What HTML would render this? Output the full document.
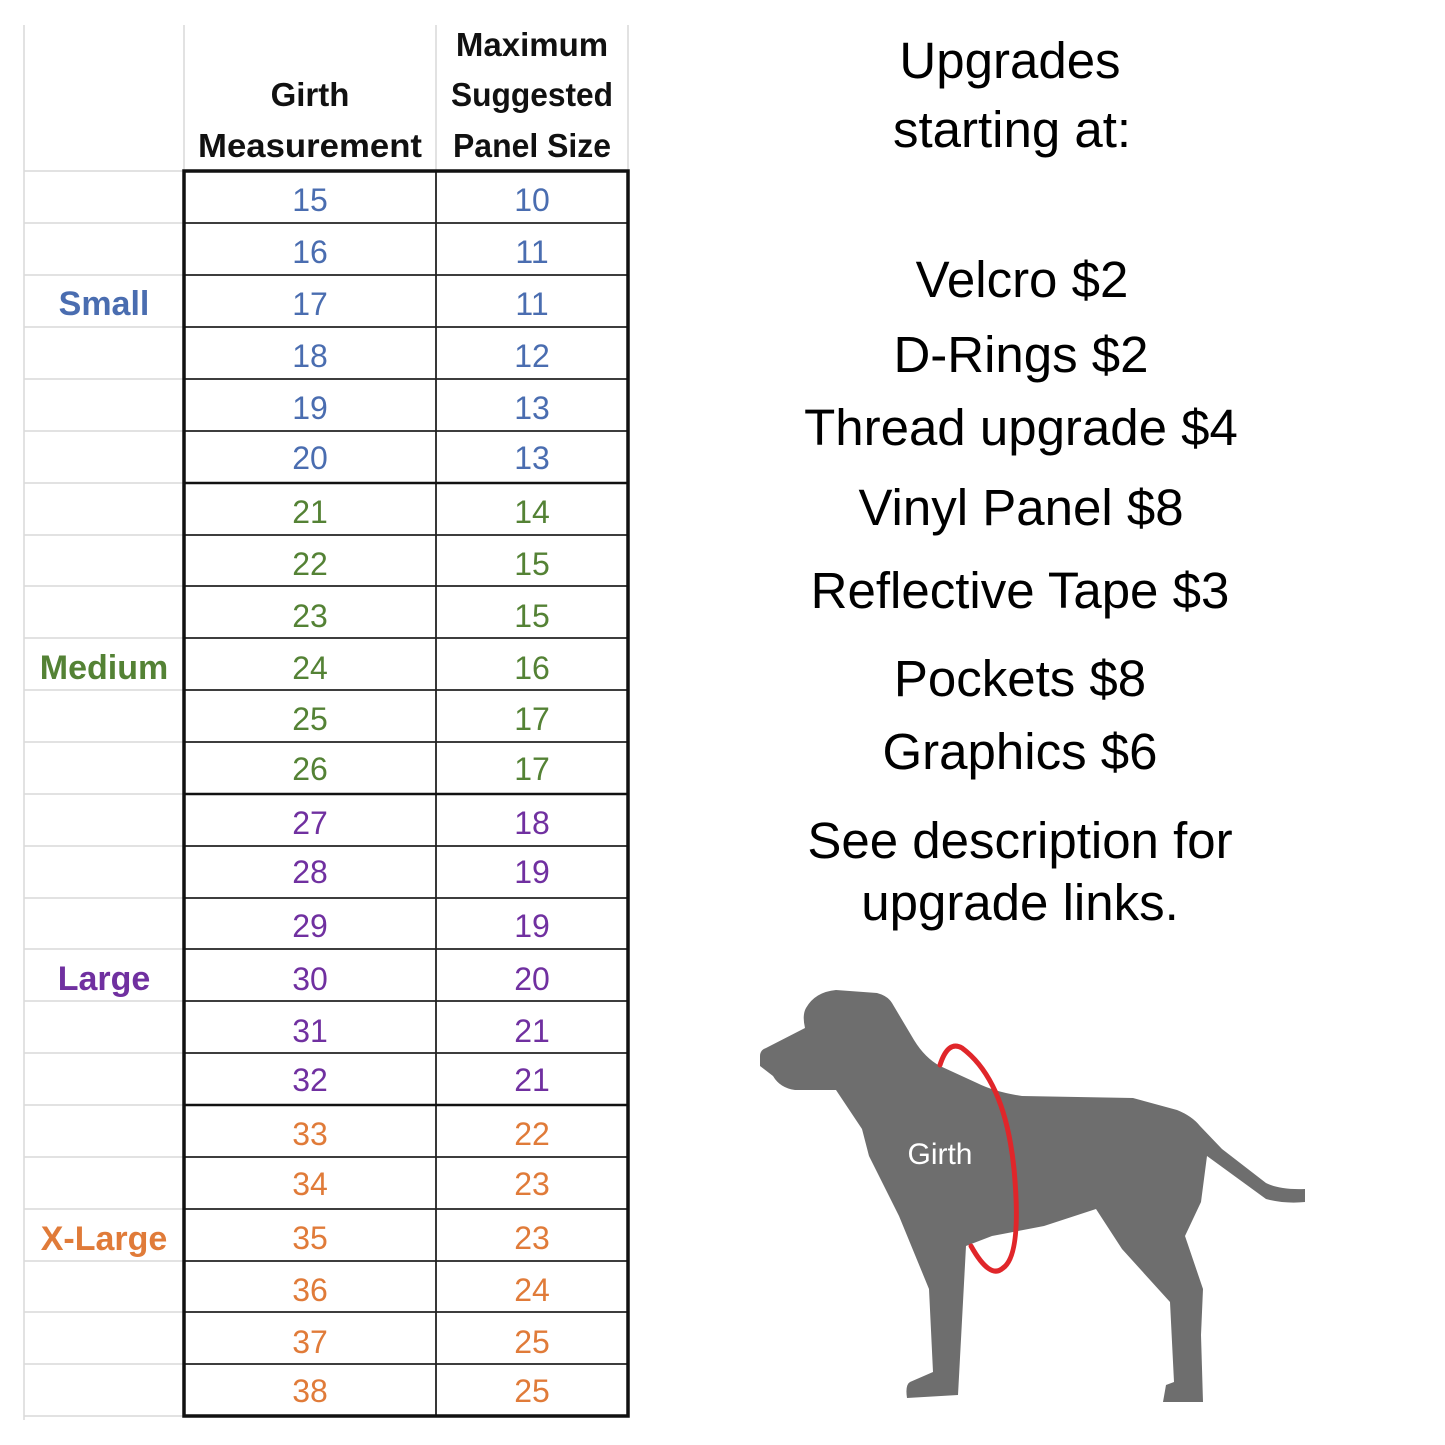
<!DOCTYPE html>
<html><head><meta charset="utf-8"><style>
html,body{margin:0;padding:0;background:#fff;}
svg{display:block;}
</style></head><body>
<svg width="1445" height="1445" viewBox="0 0 1445 1445" xmlns="http://www.w3.org/2000/svg">
<rect width="1445" height="1445" fill="#fff"/>
<g stroke="#d9d9d9" stroke-width="1.5">
<line x1="24" y1="25" x2="24" y2="1420"/>
<line x1="184" y1="25" x2="184" y2="171"/>
<line x1="436" y1="25" x2="436" y2="171"/>
<line x1="628" y1="25" x2="628" y2="171"/>
<line x1="24" y1="171" x2="184" y2="171"/>
<line x1="24" y1="223" x2="184" y2="223"/><line x1="24" y1="275" x2="184" y2="275"/><line x1="24" y1="327" x2="184" y2="327"/><line x1="24" y1="379" x2="184" y2="379"/><line x1="24" y1="431" x2="184" y2="431"/><line x1="24" y1="483" x2="184" y2="483"/><line x1="24" y1="535" x2="184" y2="535"/><line x1="24" y1="586" x2="184" y2="586"/><line x1="24" y1="638" x2="184" y2="638"/><line x1="24" y1="690" x2="184" y2="690"/><line x1="24" y1="742" x2="184" y2="742"/><line x1="24" y1="794" x2="184" y2="794"/><line x1="24" y1="846" x2="184" y2="846"/><line x1="24" y1="898" x2="184" y2="898"/><line x1="24" y1="949" x2="184" y2="949"/><line x1="24" y1="1001" x2="184" y2="1001"/><line x1="24" y1="1053" x2="184" y2="1053"/><line x1="24" y1="1105" x2="184" y2="1105"/><line x1="24" y1="1157" x2="184" y2="1157"/><line x1="24" y1="1209" x2="184" y2="1209"/><line x1="24" y1="1261" x2="184" y2="1261"/><line x1="24" y1="1312" x2="184" y2="1312"/><line x1="24" y1="1364" x2="184" y2="1364"/><line x1="24" y1="1416" x2="184" y2="1416"/>
</g>
<g stroke="#222" stroke-width="1.8">
<line x1="184" y1="223" x2="628" y2="223"/><line x1="184" y1="275" x2="628" y2="275"/><line x1="184" y1="327" x2="628" y2="327"/><line x1="184" y1="379" x2="628" y2="379"/><line x1="184" y1="431" x2="628" y2="431"/>
<line x1="184" y1="535" x2="628" y2="535"/><line x1="184" y1="586" x2="628" y2="586"/><line x1="184" y1="638" x2="628" y2="638"/><line x1="184" y1="690" x2="628" y2="690"/><line x1="184" y1="742" x2="628" y2="742"/>
<line x1="184" y1="846" x2="628" y2="846"/><line x1="184" y1="898" x2="628" y2="898"/><line x1="184" y1="949" x2="628" y2="949"/><line x1="184" y1="1001" x2="628" y2="1001"/><line x1="184" y1="1053" x2="628" y2="1053"/>
<line x1="184" y1="1157" x2="628" y2="1157"/><line x1="184" y1="1209" x2="628" y2="1209"/><line x1="184" y1="1261" x2="628" y2="1261"/><line x1="184" y1="1312" x2="628" y2="1312"/><line x1="184" y1="1364" x2="628" y2="1364"/>
<line x1="436" y1="171" x2="436" y2="1416"/>
</g>
<g stroke="#111" stroke-width="2.5">
<line x1="184" y1="483" x2="628" y2="483"/><line x1="184" y1="794" x2="628" y2="794"/><line x1="184" y1="1105" x2="628" y2="1105"/>
</g>
<rect x="184" y="171" width="444" height="1245" fill="none" stroke="#111" stroke-width="3.5"/>
<g font-family="Liberation Sans, sans-serif" font-weight="bold" font-size="33" fill="#111" text-anchor="middle">
<text x="310" y="106">Girth</text>
<text x="310" y="157" textLength="224" lengthAdjust="spacingAndGlyphs">Measurement</text>
<text x="532" y="56">Maximum</text>
<text x="532" y="106" textLength="162" lengthAdjust="spacingAndGlyphs">Suggested</text>
<text x="532" y="157" textLength="158" lengthAdjust="spacingAndGlyphs">Panel Size</text>
</g>
<g font-family="Liberation Sans, sans-serif" font-weight="bold" font-size="34" text-anchor="middle">
<text x="104" y="315" fill="#4a6db0">Small</text>
<text x="104" y="679" fill="#548235">Medium</text>
<text x="104" y="990" fill="#7030a0">Large</text>
<text x="104" y="1250" fill="#e07b39">X-Large</text>
</g>
<g font-family="Liberation Sans, sans-serif" font-size="32" text-anchor="middle">
<g fill="#4a6db0">
<text x="310" y="211">15</text><text x="532" y="211">10</text>
<text x="310" y="263">16</text><text x="532" y="263">11</text>
<text x="310" y="315">17</text><text x="532" y="315">11</text>
<text x="310" y="367">18</text><text x="532" y="367">12</text>
<text x="310" y="419">19</text><text x="532" y="419">13</text>
<text x="310" y="469">20</text><text x="532" y="469">13</text>
</g>
<g fill="#548235">
<text x="310" y="523">21</text><text x="532" y="523">14</text>
<text x="310" y="575">22</text><text x="532" y="575">15</text>
<text x="310" y="627">23</text><text x="532" y="627">15</text>
<text x="310" y="679">24</text><text x="532" y="679">16</text>
<text x="310" y="730">25</text><text x="532" y="730">17</text>
<text x="310" y="780">26</text><text x="532" y="780">17</text>
</g>
<g fill="#7030a0">
<text x="310" y="834">27</text><text x="532" y="834">18</text>
<text x="310" y="883">28</text><text x="532" y="883">19</text>
<text x="310" y="937">29</text><text x="532" y="937">19</text>
<text x="310" y="990">30</text><text x="532" y="990">20</text>
<text x="310" y="1042">31</text><text x="532" y="1042">21</text>
<text x="310" y="1091">32</text><text x="532" y="1091">21</text>
</g>
<g fill="#e07b39">
<text x="310" y="1145">33</text><text x="532" y="1145">22</text>
<text x="310" y="1195">34</text><text x="532" y="1195">23</text>
<text x="310" y="1249">35</text><text x="532" y="1249">23</text>
<text x="310" y="1301">36</text><text x="532" y="1301">24</text>
<text x="310" y="1353">37</text><text x="532" y="1353">25</text>
<text x="310" y="1402">38</text><text x="532" y="1402">25</text>
</g>
</g>
<g font-family="Liberation Sans, sans-serif" font-size="51" fill="#000" text-anchor="middle">
<text x="1010" y="78">Upgrades</text>
<text x="1012" y="147">starting at:</text>
<text x="1022" y="297">Velcro $2</text>
<text x="1021" y="372">D-Rings $2</text>
<text x="1021" y="445">Thread upgrade $4</text>
<text x="1021" y="525">Vinyl Panel $8</text>
<text x="1020" y="608">Reflective Tape $3</text>
<text x="1020" y="696">Pockets $8</text>
<text x="1020" y="769">Graphics $6</text>
<text x="1020" y="858">See description for</text>
<text x="1020" y="920">upgrade links.</text>
</g>
<path fill="#6e6e6e" d="M760,1056 Q760,1050 766,1048 L805,1028 Q802,1015 806,1008 Q815,992 836,990 L877,993 Q888,996 892,1003 L914,1040 Q925,1058 940,1066 L977,1083 Q995,1092 1022,1096 L1133,1098 L1177,1110 Q1192,1116 1200,1126 L1222,1149 L1266,1183 Q1280,1190 1305,1189 L1305,1202 Q1285,1204 1266,1199 L1207,1156 L1201,1202 L1185,1236 L1203,1289 L1201,1335 L1203,1402 L1163,1402 L1166,1385 L1174,1382 L1170,1302 L1122,1249 L1096,1209 L1044,1226 L992,1236 L966,1246 L958,1395 L907,1398 Q905,1385 910,1382 L933,1372 L929,1289 L899,1216 L869,1156 L862,1129 L836,1090 L795,1090 Q780,1088 773,1076 L760,1066 Z"/>
<path fill="none" stroke="#e0262a" stroke-width="5" stroke-linecap="round" d="M940,1065 Q948,1040 962,1048 Q1005,1080 1014,1169 Q1022,1255 1003,1268 Q990,1280 971,1246"/>
<text x="940" y="1164" font-family="Liberation Sans, sans-serif" font-size="30" fill="#fff" text-anchor="middle">Girth</text>
</svg>
</body></html>
